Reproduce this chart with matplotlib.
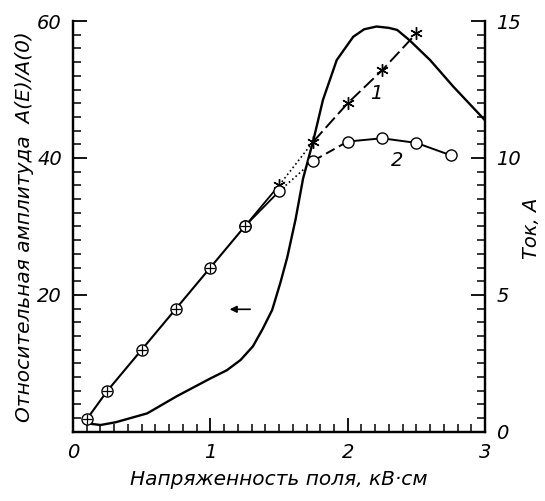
import matplotlib.pyplot as plt
from matplotlib.ticker import MultipleLocator

plt.rcParams['font.family'] = ['DejaVu Sans']
plt.rcParams['font.style'] = 'italic'

# относительная амплитуда (левая ось)
amp_x = [0.12, 0.2, 0.31, 0.54, 0.755, 1.0, 1.12, 1.22, 1.31, 1.38, 1.45, 1.51, 1.56, 1.62, 1.675,
         1.75, 1.82, 1.92, 2.04, 2.12, 2.21, 2.3, 2.36, 2.45, 2.6, 2.77, 3.0]
amp_y = [1.2, 1.0, 1.4, 2.7, 5.2, 7.8, 9.0, 10.5, 12.5, 15.0, 17.8, 21.8, 25.5, 31.0, 37.0,
         42.6, 48.5, 54.3, 57.7, 58.8, 59.2, 59.0, 58.7, 57.2, 54.3, 50.4, 45.5]

# ток (правая ось), общий участок
cur_x = [0.1, 0.25, 0.5, 0.75, 1.0, 1.25]
cur_y = [0.46, 1.5, 3.0, 4.5, 6.0, 7.5]

# кривая 1
c1_x = [1.25, 1.5, 1.75, 2.0, 2.25, 2.5]
c1_y = [7.5, 9.0, 10.6, 12.0, 13.2, 14.55]

# кривая 2
c2_x = [1.25, 1.5, 1.75, 2.0, 2.25, 2.5, 2.75]
c2_y = [7.5, 8.78, 9.9, 10.6, 10.72, 10.55, 10.1]

fig = plt.figure(figsize=(5.45, 5.01), dpi=100)
ax = fig.add_axes([0.134, 0.138, 0.756, 0.820])
ax2 = ax.twinx()

ax.plot(amp_x, amp_y, color='black', lw=1.7)

# общий участок с кружками-крестиками
ax2.plot(cur_x, cur_y, color='black', lw=1.5, marker='o', ms=8,
         mfc='white', mec='black', mew=1.0, zorder=3)
ax2.plot(cur_x, cur_y, ls='none', marker='+', ms=7, mec='black', mew=0.9, zorder=4)

# кривая 1
ax2.plot(c1_x[:2], c1_y[:2], color='black', lw=1.3)
ax2.plot(c1_x[1:3], c1_y[1:3], color='black', lw=1.2, ls=':')
ax2.plot(c1_x[2:], c1_y[2:], color='black', lw=1.4, dashes=(7, 2.5))
ax2.plot(c1_x[1:], c1_y[1:], ls='none', marker=(6, 2, 0), ms=9, mec='black', mew=1.0)

# кривая 2
ax2.plot(c2_x[:2], c2_y[:2], color='black', lw=1.3)
ax2.plot(c2_x[1:3], c2_y[1:3], color='black', lw=1.2, ls=':')
ax2.plot(c2_x[2:4], c2_y[2:4], color='black', lw=1.4, dashes=(5, 2.5))
ax2.plot(c2_x[3:], c2_y[3:], color='black', lw=1.4)
ax2.plot(c2_x[1:], c2_y[1:], ls='none', marker='o', ms=8, mfc='white', mec='black', mew=1.0)

ax2.plot(cur_x[-1:], cur_y[-1:], ls='none', marker='o', ms=8, mfc='white', mec='black', mew=1.0, zorder=5)
ax2.plot(cur_x[-1:], cur_y[-1:], ls='none', marker='+', ms=7, mec='black', mew=0.9, zorder=6)

ax.text(2.21, 49.4, '1', fontsize=14, ha='center', va='center')
ax.text(2.36, 39.7, '2', fontsize=14, ha='center', va='center')
ax.annotate('', xy=(1.12, 17.9), xytext=(1.31, 17.9),
            arrowprops=dict(arrowstyle='-|>', color='black', lw=1.2, mutation_scale=10))

ax.set_xlim(0, 3)
ax.set_ylim(0, 60)
ax2.set_ylim(0, 15)

for a in (ax, ax2):
    a.spines['top'].set_visible(False)
    a.spines['left'].set_linewidth(1.6)
    a.spines['bottom'].set_linewidth(1.6)
    a.spines['right'].set_linewidth(1.6)

ax.set_xticks([0, 1, 2, 3])
ax.xaxis.set_minor_locator(MultipleLocator(0.1))
ax.set_yticks([20, 40, 60])
ax.yaxis.set_minor_locator(MultipleLocator(2))
ax2.set_yticks([0, 5, 10, 15])
ax2.yaxis.set_minor_locator(MultipleLocator(0.5))

ax.tick_params(axis='both', which='major', direction='in', length=10, width=1.3, labelsize=14, pad=8)
ax.tick_params(axis='both', which='minor', direction='in', length=6, width=1.1)
ax.tick_params(axis='x', which='both', top=False)
ax2.tick_params(axis='y', which='major', direction='in', length=10, width=1.3, labelsize=14, pad=8)
ax2.tick_params(axis='y', which='minor', direction='in', length=6, width=1.1)

ax.set_xlabel('Напряженность поля, кВ·см', fontsize=14.5, labelpad=6)
ax.set_ylabel('Относительная амплитуда  A(E)/A(0)', fontsize=14.5, labelpad=2)
ax2.set_ylabel('Ток, A', fontsize=14)
ax2.yaxis.set_label_coords(1.09, 0.495)

plt.savefig('out.png', dpi=100)
